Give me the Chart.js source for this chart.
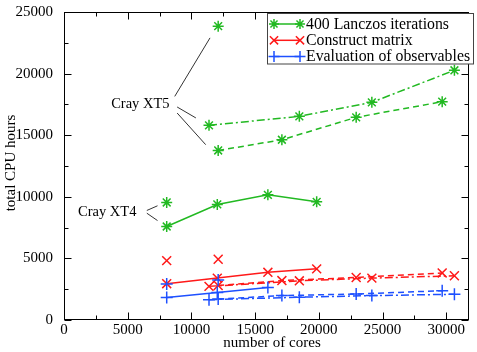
<!DOCTYPE html>
<html><head><meta charset="utf-8">
<script src="https://cdn.jsdelivr.net/npm/chart.js@4"></script>
<style>html,body{margin:0;padding:0;background:#fff}</style>
</head><body>
<canvas id="c" width="477" height="352"></canvas>
<script>
// ---- data ----
const seriesNames = ['400 Lanczos iterations', 'Construct matrix', 'Evaluation of observables'];
const xTitle = 'number of cores';
const yTitle = 'total CPU hours';
const xTicks = [0, 5000, 10000, 15000, 20000, 25000, 30000];
const yTicks = [0, 5000, 10000, 15000, 20000, 25000];

const coresXT4 = [8060, 12030, 16000, 19830];
const lanczosXT4 = [7590, 9380, 10160, 9590];
const constructXT4 = [2950, 3400, 3870, 4150];
const evalXT4 = [1830, 2240, 2630];

const coresXT5a = [12100, 17100, 22930, 29680];
const lanczosXT5a = [13760, 14630, 16450, 17720];
const constructXT5a = [2800, 3200, 3450, 3820];
const evalXT5a = [1700, 1980, 2110, 2380];

const coresXT5b = [11380, 18470, 24160, 30640];
const lanczosXT5b = [15800, 16530, 17670, 20270];
const constructXT5b = [2730, 3180, 3400, 3590];
const evalXT5b = [1650, 1850, 1980, 2090];

const coresSingle = [8060, 12100];
const lanczosSingle = [9540, 23850];
const constructSingle = [4820, 4930];
const evalSingle = [2930, 3250];

// annotation labels
const annotLabels = ['Cray XT5', 'Cray XT4'];

// ---- styles ----
const COLORS = ['rgb(34,185,34)', 'rgb(255,25,25)', 'rgb(30,80,255)'];
const STYLES = ['star', 'crossRot', 'cross'];
const RADII = [5.5, 6.3, 6];
const FONT = '"Liberation Serif", "Times New Roman", serif';

function pts(xs, ys) { return ys.map((v, i) => ({x: xs[i], y: v})); }
function ds(k, xs, ys, dash, showLine) {
  return {
    label: seriesNames[k], data: pts(xs, ys), showLine: showLine,
    borderColor: COLORS[k], backgroundColor: COLORS[k],
    borderWidth: 1.5, borderDash: dash, tension: 0,
    pointStyle: STYLES[k], pointRadius: RADII[k], pointBorderWidth: 1.5,
    pointBorderColor: COLORS[k], pointHoverRadius: RADII[k]
  };
}
const DASH = [6, 4], DASHDOT = [8, 3, 2, 3];
const datasets = [
  ds(2, coresXT4, evalXT4, [], true),
  ds(2, coresXT5a, evalXT5a, DASH, true),
  ds(2, coresXT5b, evalXT5b, DASHDOT, true),
  ds(2, coresSingle, evalSingle, [], false),
  ds(1, coresXT4, constructXT4, [], true),
  ds(1, coresXT5a, constructXT5a, DASH, true),
  ds(1, coresXT5b, constructXT5b, DASHDOT, true),
  ds(1, coresSingle, constructSingle, [], false),
  ds(0, coresXT4, lanczosXT4, [], true),
  ds(0, coresXT5a, lanczosXT5a, DASH, true),
  ds(0, coresXT5b, lanczosXT5b, DASHDOT, true),
  ds(0, coresSingle, lanczosSingle, [], false)
];

// annotation geometry in data units
const annotText = [{x: 3700, y: 17480, t: 0}, {x: 1100, y: 8780, t: 1}];
const annotLines = [
  [8690, 18150, 11460, 22900],
  [8880, 17290, 10350, 16400],
  [8880, 16800, 11120, 14230],
  [7340, 9270, 6500, 8890],
  [6500, 8670, 7340, 8070]
];

const framePlugin = {
  id: 'frame',
  beforeDatasetsDraw(chart) {
    const {ctx, chartArea: a, scales: {x, y}} = chart;
    ctx.save();
    ctx.strokeStyle = '#000'; ctx.lineWidth = 1;
    const L = Math.round(a.left) + 0.5, R = Math.round(a.right) - 0.5;
    const T = Math.round(a.top) + 0.5, B = Math.round(a.bottom) - 0.5;
    ctx.strokeRect(L, T, R - L, B - T);
    ctx.beginPath();
    for (let v = 0; v <= x.max; v += 2500) {
      const p = Math.round(x.getPixelForValue(v)) + 0.5;
      const len = v % 5000 === 0 ? 7 : 4;
      ctx.moveTo(p, B); ctx.lineTo(p, B - len);
      ctx.moveTo(p, T); ctx.lineTo(p, T + len);
    }
    for (let v = 0; v <= y.max; v += 2500) {
      const p = Math.round(y.getPixelForValue(v)) + 0.5;
      const len = v % 5000 === 0 ? 7 : 4;
      ctx.moveTo(L, p); ctx.lineTo(L + len, p);
      ctx.moveTo(R, p); ctx.lineTo(R - len, p);
    }
    ctx.stroke();
    // axis titles
    ctx.fillStyle = '#000';
    ctx.font = '15px ' + FONT;
    ctx.textAlign = 'center'; ctx.textBaseline = 'middle';
    ctx.fillText(xTitle, 272, 343);
    ctx.translate(11, 163);
    ctx.rotate(-Math.PI / 2);
    ctx.fillText(yTitle, 0, 0);
    ctx.restore();
  },
  afterDatasetsDraw(chart) {
    const {ctx, scales: {x, y}} = chart;
    ctx.save();
    // annotations
    ctx.strokeStyle = '#333'; ctx.lineWidth = 1;
    ctx.beginPath();
    annotLines.forEach(l => {
      ctx.moveTo(x.getPixelForValue(l[0]), y.getPixelForValue(l[1]));
      ctx.lineTo(x.getPixelForValue(l[2]), y.getPixelForValue(l[3]));
    });
    ctx.stroke();
    ctx.fillStyle = '#000';
    ctx.font = '14.5px ' + FONT;
    ctx.textBaseline = 'middle'; ctx.textAlign = 'left';
    annotText.forEach(a => ctx.fillText(annotLabels[a.t], x.getPixelForValue(a.x), y.getPixelForValue(a.y)));
    // legend
    const bx = 267.5, by = 13.5, bw = 206, bh = 50.5;
    ctx.fillStyle = '#fff';
    ctx.fillRect(bx, by, bw, bh);
    ctx.strokeStyle = '#444'; ctx.lineWidth = 1;
    ctx.strokeRect(bx, by, bw, bh);
    const rows = [24, 40.3, 56.5];
    seriesNames.forEach((name, k) => {
      const yy = rows[k];
      ctx.strokeStyle = COLORS[k]; ctx.lineWidth = 1.5; ctx.setLineDash([]);
      ctx.beginPath(); ctx.moveTo(274, yy); ctx.lineTo(300, yy); ctx.stroke();
      [274, 300].forEach(px => {
        ctx.strokeStyle = COLORS[k];
        Chart.helpers.drawPoint(ctx, {pointStyle: STYLES[k], radius: RADII[k] - 0.5, borderWidth: 1.5}, px, yy);
      });
      ctx.fillStyle = '#000';
      ctx.font = '15.8px ' + FONT;
      ctx.textBaseline = 'middle';
      ctx.fillText(name, 306, yy + 0.5);
    });
    ctx.restore();
  }
};

new Chart(document.getElementById('c'), {
  type: 'scatter',
  data: {datasets},
  options: {
    responsive: false, animation: false,
    layout: {padding: {top: 12, right: 0, left: 0, bottom: 0}},
    plugins: {legend: {display: false}, tooltip: {enabled: false}},
    scales: {
      x: {
        type: 'linear', min: 0, max: 31800,
        afterBuildTicks: s => { s.ticks = xTicks.map(v => ({value: v})); },
        afterFit: s => { s.height = 32; },
        grid: {display: false}, border: {display: false},
        ticks: {padding: -7, color: '#000', font: {family: FONT, size: 15}, maxRotation: 0, autoSkip: false,
                callback: v => String(v)},
        title: {display: false}
      },
      y: {
        type: 'linear', min: 0, max: 25000,
        afterBuildTicks: s => { s.ticks = yTicks.map(v => ({value: v})); },
        afterFit: s => { s.width = 64; },
        grid: {display: false}, border: {display: false},
        ticks: {padding: 3, color: '#000', font: {family: FONT, size: 15}, autoSkip: false,
                callback: v => String(v)},
        title: {display: false}
      }
    }
  },
  plugins: [framePlugin]
});
</script>
</body></html>
